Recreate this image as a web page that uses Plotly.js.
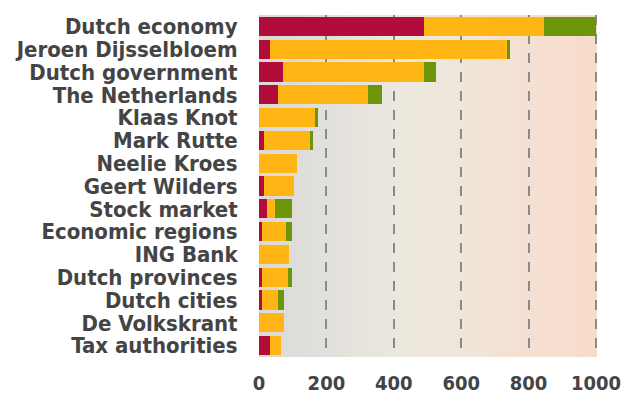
<!DOCTYPE html>
<html><head><meta charset="utf-8">
<script src="https://cdn.plot.ly/plotly-3.0.1.min.js"></script>
<style>html,body{margin:0;padding:0;background:#fff}#chart{width:622px;height:395px}#chart text{font-stretch:condensed}</style>
</head><body><div id="chart"></div>
<script>
const categories = ["Dutch economy","Jeroen Dijsselbloem","Dutch government","The Netherlands","Klaas Knot","Mark Rutte","Neelie Kroes","Geert Wilders","Stock market","Economic regions","ING Bank","Dutch provinces","Dutch cities","De Volkskrant","Tax authorities"];
const negative = [490,33,71,56,0,15,0,15,24,9,0,9,9,0,33];
const neutral  = [356,703,419,267,166,136,113,89,23,71,89,77,47,74,32];
const positive = [154,9,35,42,9,9,0,0,51,18,0,12,18,0,0];
const tickVals = [0,200,400,600,800,1000];
const tickText = ["0","200","400","600","800","1000"];

const grad = 'data:image/svg+xml;utf8,' + encodeURIComponent(
 '<svg xmlns="http://www.w3.org/2000/svg" width="100" height="10" preserveAspectRatio="none">' +
 '<defs><linearGradient id="g" x1="0" y1="0" x2="1" y2="0">' +
 '<stop offset="0" stop-color="#d9d9d9"/><stop offset="0.45" stop-color="#ede9df"/><stop offset="1" stop-color="#f8dbcb"/>' +
 '</linearGradient></defs><rect width="100" height="10" fill="url(#g)"/></svg>');

function tr(vals, color){
  return {type:'bar', orientation:'h', y:categories, x:vals, marker:{color:color, line:{width:0}}, hoverinfo:'x+y', showlegend:false};
}
const data = [tr(negative,'#b20d3a'), tr(neutral,'#ffb514'), tr(positive,'#6b960a')];
const FAM = '"DejaVu Sans", sans-serif';
const layout = {
  width:622, height:395,
  margin:{l:259, r:25, t:15, b:38, pad:0},
  barmode:'stack', bargap:0.16,
  paper_bgcolor:'#ffffff', plot_bgcolor:'rgba(0,0,0,0)',
  font:{family:FAM, color:'#444'},
  images:[{source:grad, xref:'paper', yref:'paper', x:0, y:1, sizex:1, sizey:1, sizing:'stretch', layer:'below', xanchor:'left', yanchor:'top'}],
  xaxis:{range:[0,1003], tickvals:tickVals, ticktext:tickText, showgrid:true, gridcolor:'#8a8a8a', gridwidth:2, griddash:'10px,9px',
    zeroline:false, showline:false, ticks:'outside', ticklen:8, tickcolor:'rgba(0,0,0,0)', ticklabeloverflow:'allow',
    tickfont:{family:FAM, size:20, color:'#444', weight:'bold'}, fixedrange:true},
  yaxis:{autorange:'reversed', tickmode:'array', tickvals:categories, showgrid:false, zeroline:false, showline:false, ticks:'outside', ticklen:16, tickcolor:'rgba(0,0,0,0)',
    tickfont:{family:FAM, size:22, color:'#444', weight:'bold'}, fixedrange:true}
};
Plotly.newPlot('chart', data, layout, {displayModeBar:false, staticPlot:true});
</script></body></html>
